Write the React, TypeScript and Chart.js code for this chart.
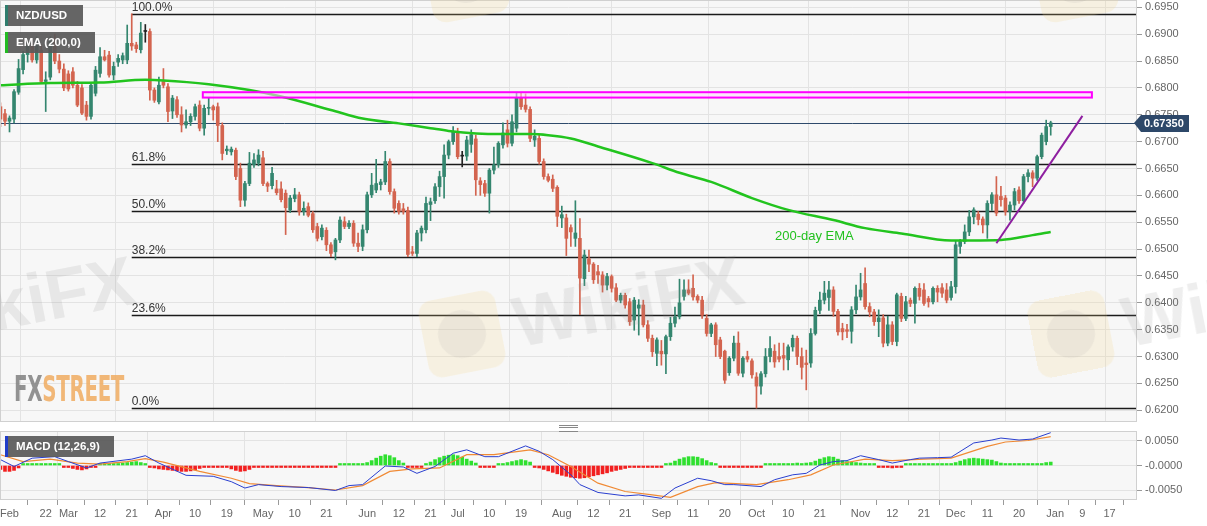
import React, { useEffect, useRef } from "react";
import { Chart, registerables } from "chart.js";

Chart.register(...registerables);

const FONT = '"Liberation Sans", Arial, Helvetica, sans-serif';

// x = weekday index, 0 = Fri 8 Feb 2019 (last candle 31 Dec 2019 = 232)
const tickDays = [2, 10, 15, 22, 29, 36, 43, 50, 58, 65, 72, 81, 88, 95, 101, 108, 115, 124, 131, 138, 146, 153, 160, 167, 174, 181, 190, 197, 204, 211, 218, 225, 233, 239, 245];
const tickLabels = ["Feb", "22", "Mar", "12", "21", "Apr", "10", "19", "May", "10", "21", "Jun", "12", "21", "Jul", "10", "19", "Aug", "12", "21", "Sep", "11", "20", "Oct", "10", "21", "Nov", "12", "21", "Dec", "11", "20", "Jan", "9", "17"];
const monthStarts = [15, 36, 58, 81, 101, 124, 146, 167, 190, 211, 233];
const priceTicks = [0.62, 0.625, 0.63, 0.635, 0.64, 0.645, 0.65, 0.655, 0.66, 0.665, 0.67, 0.675, 0.68, 0.685, 0.69, 0.695];
const macdTicks = [-0.005, 0, 0.005];

// NZD/USD daily candles, in pips (x 0.0001)
const opens = [
  6765, 6752, 6738, 6742, 6792, 6834, 6862, 6878, 6852, 6870,
  6812, 6820, 6888, 6850, 6835, 6826, 6830, 6805, 6800, 6768,
  6747, 6790, 6827, 6858, 6861, 6824, 6848, 6852, 6852, 6883,
  6880, 6871, 6905, 6905, 6796, 6774, 6812, 6802, 6757, 6778,
  6750, 6731, 6737, 6747, 6768, 6725, 6762, 6765, 6765, 6730,
  6683, 6681, 6684, 6650, 6591, 6622, 6657, 6660, 6670, 6622,
  6618, 6612, 6612, 6604, 6573, 6594, 6601, 6570, 6579, 6566,
  6542, 6523, 6535, 6508, 6495, 6517, 6551, 6542, 6548, 6511,
  6505, 6536, 6601, 6610, 6620, 6625, 6663, 6607, 6585, 6575,
  6572, 6495, 6492, 6530, 6536, 6583, 6590, 6616, 6635, 6675,
  6700, 6716, 6673, 6673, 6695, 6705, 6627, 6622, 6604, 6647,
  6657, 6694, 6722, 6697, 6725, 6781, 6768, 6760, 6703, 6706,
  6663, 6635, 6630, 6615, 6558, 6558, 6540, 6520, 6520, 6445,
  6482, 6472, 6458, 6452, 6433, 6449, 6428, 6405, 6414, 6402,
  6368, 6390, 6396, 6359, 6334, 6306, 6310, 6305, 6337, 6362,
  6374, 6412, 6424, 6427, 6412, 6405, 6371, 6343, 6359, 6331,
  6310, 6270, 6297, 6325, 6269, 6300, 6292, 6262, 6245, 6268,
  6300, 6310, 6300, 6302, 6294, 6318, 6334, 6300, 6288, 6288,
  6343, 6386, 6405, 6410, 6424, 6384, 6352, 6350, 6347, 6387,
  6411, 6436, 6393, 6383, 6365, 6372, 6325, 6359, 6328, 6412,
  6371, 6405, 6399, 6427, 6424, 6408, 6402, 6427, 6428, 6424,
  6410, 6430, 6505, 6514, 6532, 6560, 6565, 6556, 6545, 6585,
  6601, 6598, 6595, 6570, 6582, 6610, 6590, 6635, 6642, 6632,
  6672, 6700, 6728,
];
const highs = [
  6772, 6760, 6748, 6797, 6853, 6868, 6885, 6890, 6895, 6880,
  6830, 6895, 6900, 6862, 6845, 6832, 6838, 6812, 6806, 6775,
  6808, 6840, 6875, 6870, 6868, 6848, 6862, 6865, 6917, 6938,
  6885, 6922, 6918, 6910, 6800, 6820, 6836, 6808, 6786, 6784,
  6765, 6759, 6752, 6770, 6776, 6768, 6781, 6768, 6772, 6735,
  6692, 6690, 6688, 6660, 6626, 6680, 6678, 6685, 6682, 6625,
  6652, 6628, 6625, 6610, 6600, 6613, 6606, 6588, 6586, 6570,
  6548, 6545, 6540, 6512, 6520, 6560, 6560, 6553, 6553, 6530,
  6545, 6606, 6641, 6667, 6630, 6682, 6668, 6612, 6590, 6585,
  6578, 6505, 6535, 6543, 6597, 6595, 6622, 6645, 6694, 6703,
  6728, 6725, 6682, 6710, 6722, 6712, 6633, 6628, 6650, 6690,
  6700, 6735, 6740, 6750, 6790, 6790, 6789, 6765, 6722, 6712,
  6668, 6640, 6638, 6618, 6580, 6565, 6545, 6590, 6557, 6498,
  6498, 6475, 6470, 6458, 6455, 6452, 6436, 6418, 6418, 6408,
  6410, 6406, 6405, 6367, 6340, 6335, 6330, 6340, 6373, 6392,
  6444, 6443, 6443, 6452, 6415, 6412, 6378, 6362, 6363, 6336,
  6312, 6300, 6338, 6346, 6300, 6310, 6296, 6270, 6272, 6315,
  6337, 6322, 6325, 6325, 6322, 6340, 6338, 6316, 6312, 6352,
  6392, 6420, 6440, 6440, 6430, 6388, 6362, 6360, 6393, 6433,
  6455, 6465, 6400, 6388, 6387, 6378, 6375, 6365, 6418, 6418,
  6412, 6409, 6430, 6436, 6436, 6412, 6430, 6432, 6436, 6436,
  6440, 6515, 6518, 6545, 6572, 6577, 6570, 6560, 6590, 6605,
  6635, 6617, 6600, 6588, 6613, 6616, 6639, 6648, 6646, 6675,
  6716, 6740, 6738,
];
const lows = [
  6728, 6730, 6718, 6735, 6788, 6826, 6848, 6848, 6846, 6808,
  6756, 6815, 6845, 6828, 6795, 6794, 6800, 6765, 6750, 6740,
  6742, 6785, 6820, 6850, 6820, 6815, 6840, 6845, 6845, 6870,
  6866, 6865, 6885, 6777, 6773, 6770, 6800, 6737, 6743, 6745,
  6718, 6725, 6730, 6740, 6720, 6712, 6750, 6740, 6700, 6666,
  6676, 6675, 6629, 6579, 6580, 6618, 6652, 6655, 6618, 6607,
  6612, 6601, 6588, 6527, 6568, 6588, 6563, 6563, 6560, 6531,
  6515, 6517, 6497, 6486, 6480, 6512, 6538, 6538, 6505, 6495,
  6497, 6530, 6596, 6605, 6610, 6620, 6602, 6567, 6565, 6565,
  6486, 6488, 6486, 6515, 6530, 6553, 6585, 6598, 6595, 6668,
  6695, 6668, 6653, 6665, 6680, 6600, 6600, 6598, 6567, 6640,
  6652, 6688, 6690, 6692, 6718, 6760, 6755, 6700, 6691, 6658,
  6630, 6625, 6607, 6542, 6540, 6488, 6505, 6505, 6378, 6432,
  6458, 6436, 6436, 6420, 6424, 6420, 6402, 6400, 6390, 6358,
  6349, 6340, 6355, 6328, 6300, 6283, 6284, 6268, 6330, 6355,
  6370, 6405, 6415, 6405, 6400, 6371, 6338, 6337, 6300, 6296,
  6250, 6265, 6292, 6265, 6262, 6290, 6260, 6204, 6230, 6262,
  6290, 6280, 6290, 6275, 6275, 6310, 6285, 6258, 6238, 6280,
  6340, 6380, 6398, 6386, 6375, 6340, 6331, 6335, 6325, 6380,
  6405, 6388, 6374, 6358, 6337, 6318, 6320, 6322, 6320, 6365,
  6367, 6393, 6362, 6405, 6395, 6392, 6398, 6402, 6410, 6400,
  6405, 6418, 6492, 6510, 6525, 6547, 6545, 6530, 6520, 6572,
  6562, 6580, 6563, 6554, 6573, 6585, 6585, 6625, 6616, 6628,
  6668, 6694, 6712,
];
const closes = [
  6742, 6738, 6744, 6793, 6836, 6862, 6878, 6852, 6888, 6812,
  6815, 6886, 6850, 6835, 6800, 6798, 6805, 6768, 6753, 6747,
  6805, 6833, 6858, 6852, 6824, 6840, 6855, 6860, 6883, 6878,
  6873, 6902, 6905, 6796, 6777, 6805, 6805, 6756, 6781, 6750,
  6731, 6737, 6747, 6765, 6725, 6762, 6763, 6759, 6730, 6678,
  6686, 6686, 6635, 6591, 6622, 6660, 6666, 6675, 6622, 6617,
  6641, 6605, 6592, 6577, 6595, 6601, 6570, 6576, 6563, 6536,
  6520, 6539, 6508, 6492, 6517, 6554, 6542, 6548, 6511, 6505,
  6536, 6601, 6619, 6622, 6625, 6663, 6607, 6576, 6570, 6570,
  6490, 6492, 6530, 6539, 6585, 6588, 6616, 6635, 6675, 6700,
  6718, 6672, 6673, 6703, 6713, 6629, 6620, 6604, 6647, 6657,
  6697, 6716, 6697, 6737, 6781, 6765, 6760, 6706, 6710, 6663,
  6635, 6628, 6613, 6561, 6564, 6520, 6532, 6530, 6446, 6489,
  6472, 6443, 6452, 6433, 6449, 6427, 6405, 6414, 6396, 6365,
  6405, 6396, 6359, 6334, 6309, 6331, 6305, 6337, 6362, 6374,
  6400, 6424, 6418, 6411, 6405, 6377, 6343, 6359, 6322, 6300,
  6256, 6297, 6325, 6269, 6297, 6295, 6266, 6245, 6268, 6300,
  6315, 6290, 6295, 6297, 6318, 6334, 6300, 6280, 6285, 6343,
  6386, 6405, 6418, 6424, 6384, 6346, 6346, 6347, 6387, 6411,
  6424, 6393, 6383, 6365, 6372, 6325, 6359, 6328, 6415, 6371,
  6402, 6399, 6427, 6412, 6399, 6402, 6427, 6420, 6418, 6405,
  6430, 6508, 6514, 6532, 6560, 6573, 6555, 6545, 6585, 6601,
  6567, 6592, 6570, 6582, 6607, 6590, 6635, 6642, 6632, 6672,
  6712, 6728, 6735,
];

// 200-day EMA, read at sparse days
const emaDays = [0, 11, 22, 32, 36, 46, 55, 62, 73, 80, 88, 95, 99, 110, 117, 121, 126, 132, 144, 150, 157, 166, 174, 184, 191, 199, 210, 221, 228, 232];
const emaValues = [0.6805, 0.6809, 0.681, 0.6815, 0.6814, 0.6807, 0.6796, 0.6784, 0.6759, 0.6743, 0.6734, 0.6725, 0.672, 0.6714, 0.6714, 0.6712, 0.6706, 0.6691, 0.666, 0.6642, 0.6625, 0.6595, 0.6573, 0.6554, 0.6539, 0.6529, 0.6516, 0.6517, 0.6526, 0.6532];

// MACD (12,26,9), x 0.0001
const macdDays = [0, 3, 7, 12, 15, 19, 22, 29, 32, 35, 41, 47, 51, 54, 57, 62, 68, 74, 77, 80, 85, 89, 92, 96, 100, 103, 107, 110, 113, 116, 119, 122, 126, 128, 132, 138, 141, 146, 149, 154, 157, 160, 162, 168, 171, 175, 178, 181, 184, 187, 190, 194, 197, 201, 203, 207, 210, 215, 219, 221, 225, 228, 232];
const macdValues = [12, -2, 15, 18, 8, -5, 5, 13, 20, 5, -20, -22, -33, -46, -39, -43, -45, -51, -41, -39, -1, -3, -16, -2, 25, 32, 18, 18, 29, 40, 29, 12, -19, -39, -55, -62, -60, -67, -46, -26, -31, -39, -39, -43, -29, -19, -16, 1, 8, 10, 20, 12, 5, 12, 15, 16, 17, 46, 52, 56, 52, 54, 67];
const signalDays = [0, 5, 11, 17, 22, 28, 32, 36, 44, 51, 55, 61, 68, 74, 80, 86, 91, 97, 103, 109, 117, 121, 126, 132, 138, 144, 148, 154, 158, 167, 174, 179, 184, 191, 197, 204, 210, 218, 222, 227, 232];
const signalValues = [22, 8, 13, 5, 3, 8, 14, 7, -12, -26, -37, -41, -45, -50, -41, -12, -7, -5, 22, 22, 32, 22, -2, -36, -53, -60, -65, -43, -35, -39, -29, -19, 1, 13, 10, 13, 15, 39, 48, 51, 59];
const histValues = [
  -8, -12, -12, -10, -5,
  1, 2, 2, 2, 1, 2, 3, 4, 2,
  -2, -4, -6, -8, -9, -7, -4, -2,
  1, 2, 3, 3, 4, 5, 6, 7, 8, 6, 3,
  -2,
  -5, -7, -8, -9, -10, -11, -12, -12, -11, -9, -6,
  -3, -2, -2, -3, -3, -4,
  -7, -10, -12, -11, -8,
  -3, -2, -1, -1, -1, -1, -1, -1, -1, -1, -1, -1, -1, -1, -1, -1, -1, -1, -1,
  1, 1, 2, 2, 3, 3,
  6, 10, 15, 19, 22, 20, 16, 10, 5,
  -2, -3, -3, -2,
  3, 7, 12, 16, 19, 21, 22, 20, 17, 13, 9, 5,
  -1, -2, -2, -1,
  2, 4, 6, 8, 10, 12, 10, 7,
  -2, -5, -8, -11, -14, -17, -20, -22, -24, -25,
  -26, -25, -23, -21, -19, -17, -15, -12, -10, -8, -6, -4,
  -2, -2, -2, -2, -2, -2, -1,
  2, 5, 9, 13, 16, 18, 18, 17, 14, 10, 6, 3,
  -1, -2, -2, -2, -2, -2, -2, -2, -2, -1,
  2, 2, 3, 3, 3, 4, 4, 5, 4, 5, 6,
  9, 13, 16, 18, 17, 13,
  10, 8, 7, 6, 5, 4, 3,
  1, -1,
  -3, -4, -5, -3,
  -1, 1,
  1, 1, 2, 2, 2, 2, 2, 2, 2, 3,
  6, 9, 12, 14, 15, 14, 13, 12, 11, 8, 5,
  3, 2, 1, 1, 1, 2, 2, 3,
  4, 6, 7,
];

// drawn studies
const swingHigh = 0.6938;
const swingLow = 0.6204;
const fibStartDay = 29;
const fibRatios = [0, 0.236, 0.382, 0.5, 0.618, 1];
const resistance = { fromDay: 44.7, toDay: 241.1, low: 0.6782, high: 0.6792 };
const trendLine = { fromDay: 220, fromPrice: 0.6511, toDay: 239, toPrice: 0.6748 };
const emaLabel = { day: 171.1, price: 0.6524, text: "200-day EMA" };

const X_MIN = -0.1;
const X_MAX = 251.06;
const UP = "#34866f";
const DOWN = "#d3644f";
const GRID = "#e3e3e3";

const panelPlugin = {
  id: "panel",
  beforeDraw(chart: any) {
    const { ctx, chartArea: a } = chart;
    ctx.save();
    ctx.fillStyle = "#ffffff";
    ctx.fillRect(0, 0, chart.width, chart.height);
    ctx.fillStyle = "#f7f7f7";
    ctx.fillRect(a.left, a.top, a.right - a.left, a.bottom - a.top);
    ctx.restore();
  },
  afterDraw(chart: any) {
    const { ctx, chartArea: a } = chart;
    ctx.save();
    ctx.strokeStyle = "#d0d0d0";
    ctx.lineWidth = 1;
    ctx.strokeRect(a.left + 0.5, a.top + 0.5, a.right - a.left - 1, a.bottom - a.top - 1);
    ctx.restore();
  },
};

const lastClose = closes[closes.length - 1] / 1e4;

const studiesPlugin = {
  id: "studies",
  beforeDatasetsDraw(chart: any) {
    const { ctx, chartArea: a, scales } = chart;
    const x = scales.x;
    const y = scales.y;
    ctx.save();
    // last price line
    const py = Math.round(y.getPixelForValue(lastClose)) + 0.5;
    ctx.strokeStyle = "#2e4a6c";
    ctx.lineWidth = 1;
    ctx.beginPath();
    ctx.moveTo(a.left, py);
    ctx.lineTo(a.right, py);
    ctx.stroke();
    // fibonacci retracement
    const x0 = x.getPixelForValue(fibStartDay);
    ctx.font = `12px ${FONT}`;
    ctx.textBaseline = "bottom";
    fibRatios.forEach((r) => {
      const level = swingLow + (swingHigh - swingLow) * r;
      const ly = Math.round(y.getPixelForValue(level)) + 0.5;
      ctx.strokeStyle = "#1a1a1a";
      ctx.lineWidth = 1.3;
      ctx.beginPath();
      ctx.moveTo(x0, ly);
      ctx.lineTo(a.right, ly);
      ctx.stroke();
      ctx.fillStyle = "#333";
      ctx.fillText((r * 100).toFixed(1) + "%", x0, ly - 1);
    });
    ctx.restore();
  },
  afterDatasetsDraw(chart: any) {
    const { ctx, scales } = chart;
    const x = scales.x;
    const y = scales.y;
    ctx.save();
    // resistance zone
    const rx0 = x.getPixelForValue(resistance.fromDay);
    const rx1 = x.getPixelForValue(resistance.toDay);
    const ry0 = y.getPixelForValue(resistance.high);
    const ry1 = y.getPixelForValue(resistance.low);
    ctx.fillStyle = "rgba(255,215,255,0.55)";
    ctx.fillRect(rx0, ry0, rx1 - rx0, ry1 - ry0);
    ctx.strokeStyle = "#ff00ff";
    ctx.lineWidth = 2;
    ctx.strokeRect(rx0, ry0, rx1 - rx0, ry1 - ry0);
    // support trend line
    ctx.strokeStyle = "#8e1fa0";
    ctx.lineWidth = 2;
    ctx.beginPath();
    ctx.moveTo(x.getPixelForValue(trendLine.fromDay), y.getPixelForValue(trendLine.fromPrice));
    ctx.lineTo(x.getPixelForValue(trendLine.toDay), y.getPixelForValue(trendLine.toPrice));
    ctx.stroke();
    // EMA caption
    ctx.fillStyle = "#22c01e";
    ctx.font = `13px ${FONT}`;
    ctx.textBaseline = "middle";
    ctx.fillText(emaLabel.text, x.getPixelForValue(emaLabel.day), y.getPixelForValue(emaLabel.price));
    ctx.restore();
  },
  afterDraw(chart: any) {
    const { ctx, chartArea: a, scales } = chart;
    const py = Math.round(scales.y.getPixelForValue(lastClose));
    const x0 = a.right + 1;
    ctx.save();
    ctx.fillStyle = "#2d4869";
    ctx.beginPath();
    ctx.moveTo(x0 - 4, py);
    ctx.lineTo(x0 + 3, py - 8);
    ctx.lineTo(x0 + 51, py - 8);
    ctx.lineTo(x0 + 51, py + 9);
    ctx.lineTo(x0 + 3, py + 9);
    ctx.closePath();
    ctx.fill();
    ctx.fillStyle = "#ffffff";
    ctx.font = `bold 11px ${FONT}`;
    ctx.textBaseline = "middle";
    ctx.fillText(lastClose.toFixed(5), x0 + 6, py + 1);
    ctx.restore();
  },
};

const candleColor = (i: number) =>
  closes[i] === opens[i] ? "#222222" : closes[i] > opens[i] ? UP : DOWN;

const yAxisBase = (ticks: number[], fmt: (v: number) => string) => ({
  position: "right" as const,
  afterBuildTicks: (s: any) => {
    s.ticks = ticks.map((v) => ({ value: v }));
  },
  afterFit: (s: any) => {
    s.width = 70;
    s.paddingTop = 0;
    s.paddingBottom = 0;
  },
  grid: { color: GRID, tickLength: 5, tickColor: "#9a9a9a" },
  border: { display: false },
  ticks: { color: "#666", font: { size: 11, family: FONT }, padding: 3, callback: (v: any) => fmt(Number(v)) },
});

function Tag({ top, width, stripe, text }: { top: number; width: number; stripe: string; text: string }) {
  return (
    <div
      style={{
        position: "absolute",
        left: 5,
        top,
        width,
        height: 21,
        boxSizing: "border-box",
        background: "rgba(88,88,88,0.92)",
        borderLeft: `3px solid ${stripe}`,
        color: "#fff",
        font: `bold 11.5px ${FONT}`,
        lineHeight: "21px",
        paddingLeft: 8,
        whiteSpace: "nowrap",
      }}
    >
      {text}
    </div>
  );
}

function Watermark({ left, top }: { left: number; top: number }) {
  return (
    <div
      style={{
        position: "absolute",
        left,
        top,
        display: "flex",
        alignItems: "center",
        transform: "rotate(-11deg)",
        transformOrigin: "39px 39px",
        pointerEvents: "none",
        whiteSpace: "nowrap",
      }}
    >
      <div
        style={{
          width: 78,
          height: 78,
          borderRadius: 14,
          background: "rgba(246,214,140,0.2)",
          display: "flex",
          alignItems: "center",
          justifyContent: "center",
          flex: "none",
        }}
      >
        <div style={{ width: 48, height: 48, borderRadius: "50%", background: "rgba(140,140,140,0.1)" }} />
      </div>
      <div style={{ marginLeft: 14, font: `bold 70px ${FONT}`, lineHeight: "78px", color: "rgba(140,140,140,0.15)" }}>WikiFX</div>
    </div>
  );
}

export default function App() {
  const mainRef = useRef<HTMLCanvasElement | null>(null);
  const macdRef = useRef<HTMLCanvasElement | null>(null);

  useEffect(() => {
    document.body.style.margin = "0";
    const mctx = mainRef.current?.getContext("2d");
    const dctx = macdRef.current?.getContext("2d");
    if (!mctx || !dctx) return;

    const colors = opens.map((_, i) => candleColor(i));

    const main = new Chart(mctx, {
      type: "bar",
      data: {
        datasets: [
          {
            type: "line",
            label: "EMA (200,0)",
            data: emaDays.map((d, i) => ({ x: d, y: emaValues[i] })),
            borderColor: "#22c41e",
            borderWidth: 2.5,
            pointRadius: 0,
            cubicInterpolationMode: "monotone",
            order: 0,
          } as any,
          {
            label: "wick",
            data: opens.map((_, i) => ({ x: i, y: [lows[i] / 1e4, highs[i] / 1e4] })),
            backgroundColor: colors,
            barThickness: 1,
            grouped: false,
            order: 2,
          } as any,
          {
            label: "body",
            data: opens.map((o, i) => ({ x: i, y: [o / 1e4, closes[i] / 1e4] })),
            backgroundColor: colors,
            barThickness: 3,
            minBarLength: 1,
            grouped: false,
            order: 1,
          } as any,
        ],
      },
      options: {
        responsive: false,
        animation: false,
        events: [],
        layout: { padding: 0 },
        plugins: { legend: { display: false }, tooltip: { enabled: false } },
        scales: {
          x: {
            type: "linear",
            min: X_MIN,
            max: X_MAX,
            offset: false,
            afterBuildTicks: (s: any) => {
              s.ticks = monthStarts.map((v) => ({ value: v }));
            },
            afterFit: (s: any) => {
              s.height = 2;
              s.paddingLeft = 0;
              s.paddingRight = 0;
            },
            grid: { color: GRID, drawTicks: false },
            border: { display: false },
            ticks: { display: false },
          },
          y: { min: 0.617822, max: 0.696359, ...yAxisBase(priceTicks, (v) => v.toFixed(4)) },
        },
      } as any,
      plugins: [panelPlugin, studiesPlugin],
    });

    const macd = new Chart(dctx, {
      type: "bar",
      data: {
        datasets: [
          {
            type: "line",
            label: "MACD",
            data: macdDays.map((d, i) => ({ x: d, y: macdValues[i] / 1e4 })),
            borderColor: "#2a3fd0",
            borderWidth: 1,
            pointRadius: 0,
            order: 0,
          } as any,
          {
            type: "line",
            label: "Signal",
            data: signalDays.map((d, i) => ({ x: d, y: signalValues[i] / 1e4 })),
            borderColor: "#f08a35",
            borderWidth: 1.2,
            pointRadius: 0,
            order: 0,
          } as any,
          {
            label: "Histogram",
            data: histValues.map((v, i) => ({ x: i, y: v / 1e4 })),
            backgroundColor: histValues.map((v) => (v >= 0 ? "#2fe02f" : "#f21f1f")),
            barThickness: 3,
            minBarLength: 2,
            order: 1,
          } as any,
        ],
      },
      options: {
        responsive: false,
        animation: false,
        events: [],
        layout: { padding: { top: 7 } },
        plugins: { legend: { display: false }, tooltip: { enabled: false } },
        scales: {
          x: {
            type: "linear",
            min: X_MIN,
            max: X_MAX,
            offset: false,
            afterBuildTicks: (s: any) => {
              s.ticks = tickDays.map((v) => ({ value: v }));
            },
            afterFit: (s: any) => {
              s.height = 26;
              s.paddingLeft = 0;
              s.paddingRight = 0;
            },
            grid: {
              color: (c: any) => (c.tick && monthStarts.includes(c.tick.value) ? GRID : "rgba(0,0,0,0)"),
              tickLength: 5,
              tickColor: "#9a9a9a",
            },
            border: { display: false },
            ticks: {
              color: "#666",
              font: { size: 11, family: FONT },
              padding: 2,
              autoSkip: false,
              maxRotation: 0,
              callback: (v: any) => tickLabels[tickDays.indexOf(Number(v))] ?? "",
            },
          },
          y: {
            min: -0.00704,
            max: 0.00704,
            ...yAxisBase(macdTicks, (v) => (v === 0 ? "-0.0000" : v.toFixed(4))),
          },
        },
      } as any,
      plugins: [panelPlugin],
    });

    return () => {
      main.destroy();
      macd.destroy();
    };
  }, []);

  return (
    <div style={{ position: "relative", width: 1207, height: 526, overflow: "hidden", background: "#fff" }}>
      <canvas ref={mainRef} width={1207} height={424} style={{ position: "absolute", left: 0, top: 0, width: 1207, height: 424 }} />
      <canvas ref={macdRef} width={1207} height={102} style={{ position: "absolute", left: 0, top: 424, width: 1207, height: 102 }} />

      <Watermark left={-186} top={295} />
      <Watermark left={423} top={295} />
      <Watermark left={1032} top={295} />
      <Watermark left={427} top={-60} />
      <Watermark left={1036} top={-60} />

      <div
        style={{
          position: "absolute",
          left: 14,
          top: 372,
          font: 'bold 35px "DejaVu Sans Condensed", "DejaVu Sans", sans-serif',
          lineHeight: "35px",
          transform: "scaleX(0.63)",
          transformOrigin: "left top",
          whiteSpace: "nowrap",
          letterSpacing: -0.5,
        }}
      >
        <span style={{ color: "rgba(128,128,128,0.85)" }}>FX</span>
        <span style={{ color: "rgba(240,172,96,0.85)" }}>STREET</span>
      </div>

      <Tag top={5} width={78} stripe="#2f7d6d" text="NZD/USD" />
      <Tag top={32} width={90} stripe="#22bb22" text="EMA (200,0)" />
      <Tag top={436} width={109} stripe="#1f3cc8" text="MACD (12,26,9)" />

      <div style={{ position: "absolute", left: 559, top: 425, width: 19, height: 5, borderTop: "1px solid #888", borderBottom: "1px solid #888" }}>
        <div style={{ marginTop: 1, borderTop: "1px solid #888" }} />
      </div>
    </div>
  );
}
